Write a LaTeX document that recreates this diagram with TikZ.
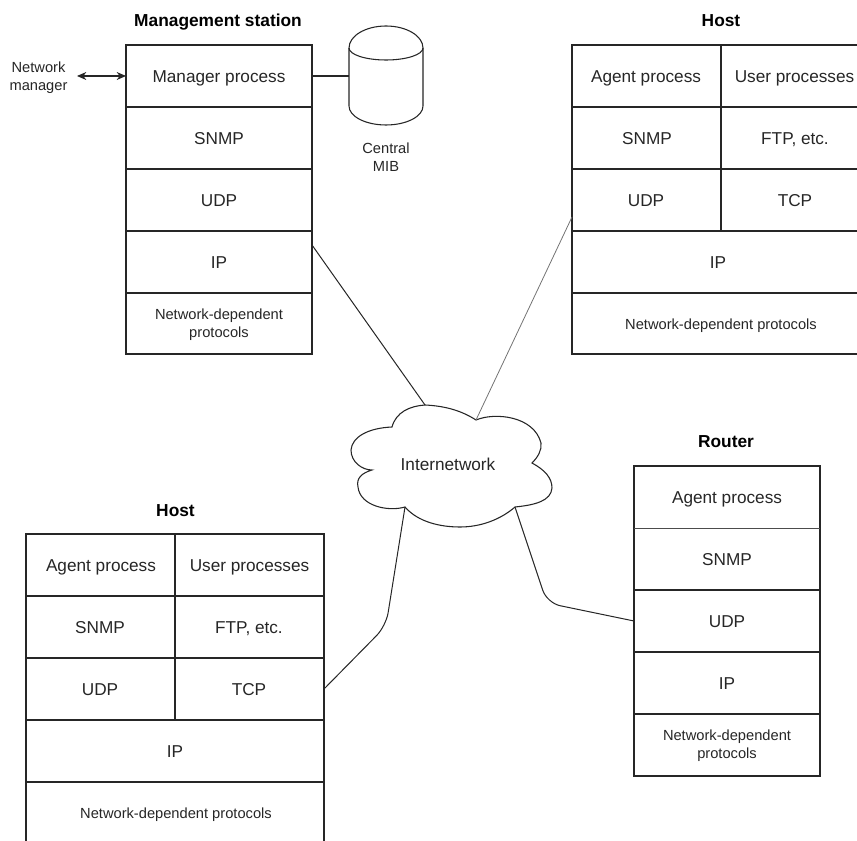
\documentclass[tikz,border=0pt]{standalone}
\usepackage{fontspec}
\setmainfont{Liberation Sans}
\usetikzlibrary{arrows.meta}
\tikzset{
  x=0.75pt,y=-0.75pt,
  ln/.style={draw=black!85,line width=0.8pt},
  thin ln/.style={draw=black!70,line width=0.6pt},
  lb/.style={font=\fontsize{12.9}{15}\selectfont,text=black!85,inner sep=0pt,anchor=base,yshift=-4.6pt},
  sm/.style={font=\fontsize{11}{13.4}\selectfont,text=black!85,inner sep=0pt,align=center},
  smb/.style={font=\fontsize{11}{13.4}\selectfont,text=black!85,inner sep=0pt,anchor=base,yshift=-3.8pt},
  ttl/.style={font=\fontsize{13}{15}\selectfont\bfseries,text=black,inner sep=0pt,anchor=base},
}
\begin{document}
\begin{tikzpicture}
\useasboundingbox (0,0) rectangle (857,841);
% Management station
\node[ttl] (mt) at (218,26.5) {Management station};
\draw[ln] (126,45) rectangle (312,354);
\foreach \y in {107,169,231,293} \draw[ln] (126,\y) -- (312,\y);
\coordinate (mleft) at (126,76);
\coordinate (mright) at (312,76);
\coordinate (mip) at (312,245);
\node[lb] (m1) at (219,76) {Manager process};
\node[lb] (m2) at (219,138) {SNMP};
\node[lb] (m3) at (219,200) {UDP};
\node[lb] (m4) at (219,262) {IP};
\node[sm] (m5) at (219,325) {Network-dependent\\protocols};
\node[sm] (nm) at (38.5,77.5) {Network\\manager};
\coordinate (nmr) at (77,76);
\draw[ln,{Stealth[length=7pt,width=6pt]}-{Stealth[length=7pt,width=6pt]}] (nmr) -- (mleft);
% cylinder
\draw[ln,fill=white] (349,48) arc[start angle=180,end angle=360,x radius=37,y radius=22]
  -- (423,106) arc[start angle=0,end angle=180,x radius=37,y radius=19] -- cycle;
\draw[ln] (349,48) arc[start angle=180,end angle=0,x radius=37,y radius=12];
\coordinate (cyl) at (349,76);
\draw[ln] (mright) -- (cyl);
\node[sm] (mib) at (386,157) {Central\\MIB};
% Host right
\node[ttl] (ht) at (721,26.5) {Host};
\draw[ln] (857,45) -- (572,45) -- (572,354) -- (857,354);
\foreach \y in {107,169,231,293} \draw[ln] (572,\y) -- (857,\y);
\draw[ln] (721,45) -- (721,231);
\coordinate (hrl) at (572,217);
\node[lb] (h1) at (646,76) {Agent process};
\node[lb] (h2) at (794.5,76) {User processes};
\node[lb] (h3) at (647,138) {SNMP};
\node[lb] (h4) at (795,138) {FTP, etc.};
\node[lb] (h5) at (646,200) {UDP};
\node[lb] (h6) at (795,200) {TCP};
\node[lb] (h7) at (718,262) {IP};
\node[smb] (h8) at (721,324) {Network-dependent protocols};
% Host left
\node[ttl] (lt) at (175.5,516) {Host};
\draw[ln] (26,841) -- (26,534) -- (324,534) -- (324,841);
\foreach \y in {596,658,720,782} \draw[ln] (26,\y) -- (324,\y);
\draw[ln] (175,534) -- (175,720);
\coordinate (hlr) at (324,689);
\node[lb] (l1) at (101,565) {Agent process};
\node[lb] (l2) at (249.5,565) {User processes};
\node[lb] (l3) at (100,627) {SNMP};
\node[lb] (l4) at (249,627) {FTP, etc.};
\node[lb] (l5) at (100,689) {UDP};
\node[lb] (l6) at (249,689) {TCP};
\node[lb] (l7) at (175,751) {IP};
\node[smb] (l8) at (176,813) {Network-dependent protocols};
% Router
\node[ttl] (rt) at (726,448) {Router};
\draw[ln] (634,466) rectangle (820,776);
\draw[thin ln] (634,528) -- (820,528);
\foreach \y in {590,652,714} \draw[ln] (634,\y) -- (820,\y);
\coordinate (rl) at (634,621);
\node[lb] (r1) at (727,497) {Agent process};
\node[lb] (r2) at (727,559) {SNMP};
\node[lb] (r3) at (727,621) {UDP};
\node[lb] (r4) at (727,683) {IP};
\node[sm] (r5) at (727,746) {Network-dependent\\protocols};
% Cloud
\coordinate (c1) at (425,405);
\coordinate (c2) at (476,420);
\coordinate (c3) at (405,507);
\coordinate (c4) at (515,507);
\draw[ln,fill=white]
  (392,427) .. controls (396,412) and (410,406) .. (425,405)
  .. controls (446,406) and (462,411) .. (476,420)
  .. controls (495,412) and (534,416) .. (541,443)
  .. controls (542,450) and (538,457) .. (532,463)
  .. controls (545,470) and (552,478) .. (552,488)
  .. controls (551,501) and (535,505) .. (515,507)
  .. controls (500,520) and (480,527) .. (460,527)
  .. controls (440,527) and (418,522) .. (405,507)
  .. controls (388,512) and (360,506) .. (358,487)
  .. controls (356,478) and (362,473) .. (372,470)
  .. controls (362,470) and (351,462) .. (351,450)
  .. controls (352,437) and (368,428) .. (392,427) -- cycle;
\node[lb] (net) at (448,464) {Internetwork};
% links
\draw[ln,line width=0.75pt] (mip) -- (c1);
\draw[thin ln,draw=black!55] (hrl) -- (c2);
\draw[ln,line width=0.75pt,rounded corners=10pt] (c3) -- (386,626) -- (hlr);
\draw[ln,line width=0.75pt,rounded corners=10pt] (c4) -- (547,603) -- (rl);
\end{tikzpicture}
\end{document}
